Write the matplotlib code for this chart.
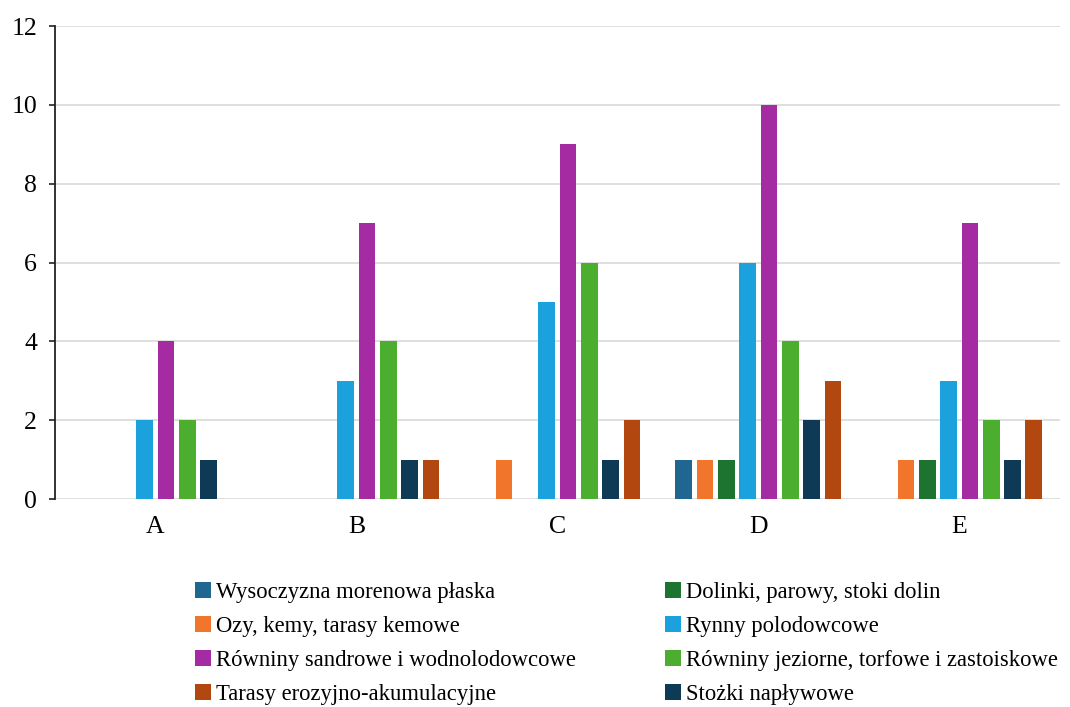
import matplotlib
matplotlib.use("Agg")
import matplotlib.pyplot as plt
import numpy as np
from matplotlib.patches import Patch

plt.rcParams["font.family"] = ["Liberation Serif", "DejaVu Serif"]

groups = ["A", "B", "C", "D", "E"]
series = [
    "Wysoczyzna morenowa płaska",
    "Ozy, kemy, tarasy kemowe",
    "Dolinki, parowy, stoki dolin",
    "Rynny polodowcowe",
    "Równiny sandrowe i wodnolodowcowe",
    "Równiny jeziorne, torfowe i zastoiskowe",
    "Stożki napływowe",
    "Tarasy erozyjno-akumulacyjne",
]
colors = ["#1f6690", "#f1762c", "#1d7430", "#1ba2dd",
          "#a52ba3", "#4cae2e", "#0f3a56", "#b2470f"]

# counts per group, one list per series
wysoczyzna = [0, 0, 0, 1, 0]
ozy = [0, 0, 1, 1, 1]
dolinki = [0, 0, 0, 1, 1]
rynny = [2, 3, 5, 6, 3]
rowniny_sandrowe = [4, 7, 9, 10, 7]
rowniny_jeziorne = [2, 4, 6, 4, 2]
stozki = [1, 1, 1, 2, 1]
tarasy = [0, 1, 2, 3, 2]
values = [wysoczyzna, ozy, dolinki, rynny,
          rowniny_sandrowe, rowniny_jeziorne, stozki, tarasy]

fig = plt.figure(figsize=(10.7, 7.07), dpi=100)
ax = fig.add_axes([0.0514, 0.294, 0.939, 0.669])

x = np.arange(len(groups))
pitch, width = 0.106, 0.083
for i, (vals, c) in enumerate(zip(values, colors)):
    ax.bar(x + (i - 3.5) * pitch, vals, width, color=c, zorder=3)

ax.set_xlim(-0.5, 4.5)
ax.set_ylim(0, 12)
ax.set_yticks(range(0, 13, 2))
ax.set_xticks(x, groups)
ax.yaxis.grid(True, color="#d9d9d9", lw=1.2, zorder=0)
for s in ("top", "right", "bottom"):
    ax.spines[s].set_visible(False)
ax.spines["left"].set_color("#222222")
ax.spines["left"].set_linewidth(1.3)
ax.tick_params(axis="y", length=4.5, width=1.2, color="#222222", labelsize=18.5, pad=8.5)
ax.tick_params(axis="x", length=0, labelsize=18.5, pad=12)

# legend laid out column by column: left column first, then right
order = [0, 1, 4, 7, 2, 3, 5, 6]
handles = [Patch(facecolor=colors[k], label=series[k]) for k in order]
fig.legend(handles=handles, ncol=2, frameon=False, fontsize=16.3,
           loc="upper left", bbox_to_anchor=(195 / 1070, 1 - 582 / 707),
           borderpad=0, borderaxespad=0, handlelength=0.72, handleheight=0.72,
           handletextpad=0.2, labelspacing=0.57, columnspacing=3.93)

fig.savefig("out.png", dpi=100)
